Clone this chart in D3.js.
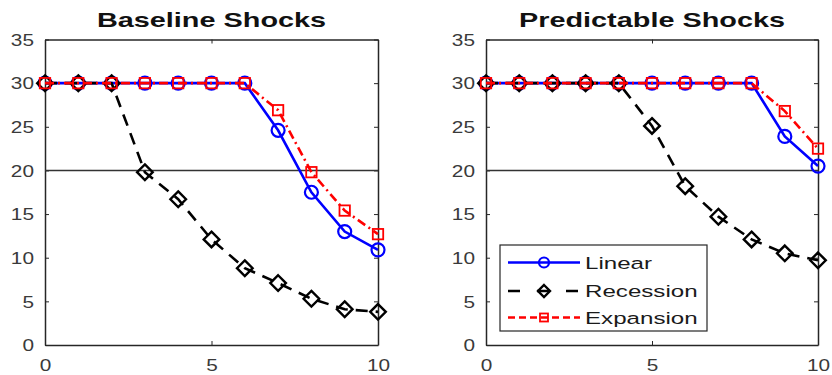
<!DOCTYPE html>
<html>
<head>
<meta charset="utf-8">
<script src="https://cdn.jsdelivr.net/npm/d3@7"></script>
<style>
  body { margin: 0; background: #fff; }
  svg { display: block; }
  text { font-family: "Liberation Sans", Arial, sans-serif; }
</style>
</head>
<body>
<svg id="chart" width="832" height="375"></svg>
<script>
// horizon (quarters after the shock)
const steps = [0, 1, 2, 3, 4, 5, 6, 7, 8, 9, 10];
const xTicks = [0, 5, 10];
const yTicks = [0, 5, 10, 15, 20, 25, 30, 35];
const panelTitles = ["Baseline Shocks", "Predictable Shocks"];
const seriesNames = ["Linear", "Recession", "Expansion"];

// left panel
const baseLinear    = [30, 30, 30, 30, 30, 30, 30, 24.6, 17.5, 13.0, 10.9];
const baseRecession = [30, 30, 30, 19.8, 16.7, 12.1, 8.8, 7.1, 5.3, 4.1, 3.8];
const baseExpansion = [30, 30, 30, 30, 30, 30, 30, 26.9, 19.8, 15.4, 12.7];

// right panel
const predLinear    = [30, 30, 30, 30, 30, 30, 30, 30, 30, 23.9, 20.5];
const predRecession = [30, 30, 30, 30, 30, 25.1, 18.2, 14.7, 12.1, 10.5, 9.7];
const predExpansion = [30, 30, 30, 30, 30, 30, 30, 30, 30, 26.8, 22.5];

const refLine = 20;

const svg = d3.select("#chart");

// the source figure is stretched sideways, so text is scaled in x too
const tickSX = 1.3, titleSX = 1.48, legendSX = 1.42;
const axisColor = "#262626";

const styles = [
  {color: "#0000ff", dash: null, legendDash: null, marker: "circle"},
  {color: "#000000", dash: "12,8", legendDash: "12,17", marker: "diamond"},
  {color: "#ff0000", dash: "9,4,2,4", legendDash: "7,4", marker: "square"}
];

const panels = [
  {title: panelTitles[0], x0: 45, x1: 378, series: [baseLinear, baseRecession, baseExpansion]},
  {title: panelTitles[1], x0: 486, x1: 818, series: [predLinear, predRecession, predExpansion]}
];

const yTop = 39.5, yBottom = 345;

function drawMarker(g, type, cx, cy, color, size){
    if(type === "circle"){
        g.append("circle").attr("cx", cx).attr("cy", cy).attr("r", size)
            .attr("fill", "none").attr("stroke", color).attr("stroke-width", 2.2);
    } else if(type === "diamond"){
        let s = size * 1.2;
        g.append("path")
            .attr("d", "M" + cx + "," + (cy - s) + "L" + (cx + s) + "," + cy + "L" + cx + "," + (cy + s) + "L" + (cx - s) + "," + cy + "Z")
            .attr("fill", "none").attr("stroke", color).attr("stroke-width", 2.4);
    } else {
        let s = size * 0.8;
        g.append("rect").attr("x", cx - s).attr("y", cy - s).attr("width", 2 * s).attr("height", 2 * s)
            .attr("fill", "none").attr("stroke", color).attr("stroke-width", 1.8);
    }
}

panels.forEach(function(p, pi){
    let x = d3.scaleLinear().domain([0, 10]).range([p.x0, p.x1]);
    let y = d3.scaleLinear().domain([0, 35]).range([yBottom, yTop]);
    let g = svg.append("g");

    // axes (ticks point inward, like matlab)
    let left = g.append("g").attr("transform", "translate(" + p.x0 + ",0)")
        .call(d3.axisLeft(y).tickValues(yTicks).tickSizeInner(-4).tickSizeOuter(0));
    let bottom = g.append("g").attr("transform", "translate(0," + yBottom + ")")
        .call(d3.axisBottom(x).tickValues(xTicks).tickSizeInner(-4).tickSizeOuter(0));
    g.append("g").attr("transform", "translate(" + p.x1 + ",0)")
        .call(d3.axisRight(y).tickValues(yTicks).tickSizeInner(-4).tickSizeOuter(0).tickFormat(""));
    g.append("g").attr("transform", "translate(0," + yTop + ")")
        .call(d3.axisTop(x).tickValues(xTicks).tickSizeInner(-4).tickSizeOuter(0).tickFormat(""));

    g.selectAll(".domain").attr("stroke", axisColor).attr("stroke-width", 1.5);
    g.selectAll(".tick line").attr("stroke", axisColor).attr("stroke-width", 1);

    left.selectAll("text")
        .attr("x", -11 / tickSX).attr("dy", "0.36em")
        .attr("transform", "scale(" + tickSX + ",1)")
        .style("font-size", "16px").attr("fill", "#3a3a3a");
    bottom.selectAll("text")
        .attr("y", 14.5).attr("dy", "0.71em")
        .attr("transform", "scale(" + tickSX + ",1)")
        .style("font-size", "16px").attr("fill", "#3a3a3a");

    // horizontal reference line
    g.append("line")
        .attr("x1", p.x0).attr("x2", p.x1)
        .attr("y1", y(refLine)).attr("y2", y(refLine))
        .attr("stroke", "#333").attr("stroke-width", 1.5);

    // title
    g.append("text")
        .attr("transform", "translate(" + ((p.x0 + p.x1) / 2) + ",27) scale(" + titleSX + ",1)")
        .attr("text-anchor", "middle")
        .style("font-size", "19.5px").style("font-weight", "bold")
        .attr("fill", "#111")
        .text(p.title);

    let line = d3.line().x(function(d, i){ return x(steps[i]); }).y(function(d){ return y(d); });

    p.series.forEach(function(vals, si){
        let st = styles[si];
        let sg = g.append("g");
        sg.append("path")
            .attr("d", line(vals))
            .attr("fill", "none")
            .attr("stroke", st.color)
            .attr("stroke-width", 2.6)
            .attr("stroke-dasharray", st.dash);
        vals.forEach(function(v, i){
            drawMarker(sg, st.marker, x(steps[i]), y(v), st.color, 6.5);
        });
    });

    // legend only in the right panel
    if(pi === 1){
        let lg = g.append("g");
        lg.append("rect").attr("x", 500).attr("y", 245).attr("width", 207).attr("height", 86)
            .attr("fill", "#fff").attr("stroke", axisColor).attr("stroke-width", 1.2);
        let rowsY = [262.5, 291, 317.5];
        seriesNames.forEach(function(name, si){
            let st = styles[si];
            lg.append("line")
                .attr("x1", 508).attr("x2", 580)
                .attr("y1", rowsY[si]).attr("y2", rowsY[si])
                .attr("stroke", st.color).attr("stroke-width", 2.6)
                .attr("stroke-dasharray", st.legendDash);
            drawMarker(lg, st.marker, 544, rowsY[si], st.color, 5);
            lg.append("text")
                .attr("transform", "translate(585," + rowsY[si] + ") scale(" + legendSX + ",1)")
                .attr("dy", "0.36em")
                .style("font-size", "17px")
                .attr("fill", "#1a1a1a")
                .text(name);
        });
    }
});
</script>
</body>
</html>
